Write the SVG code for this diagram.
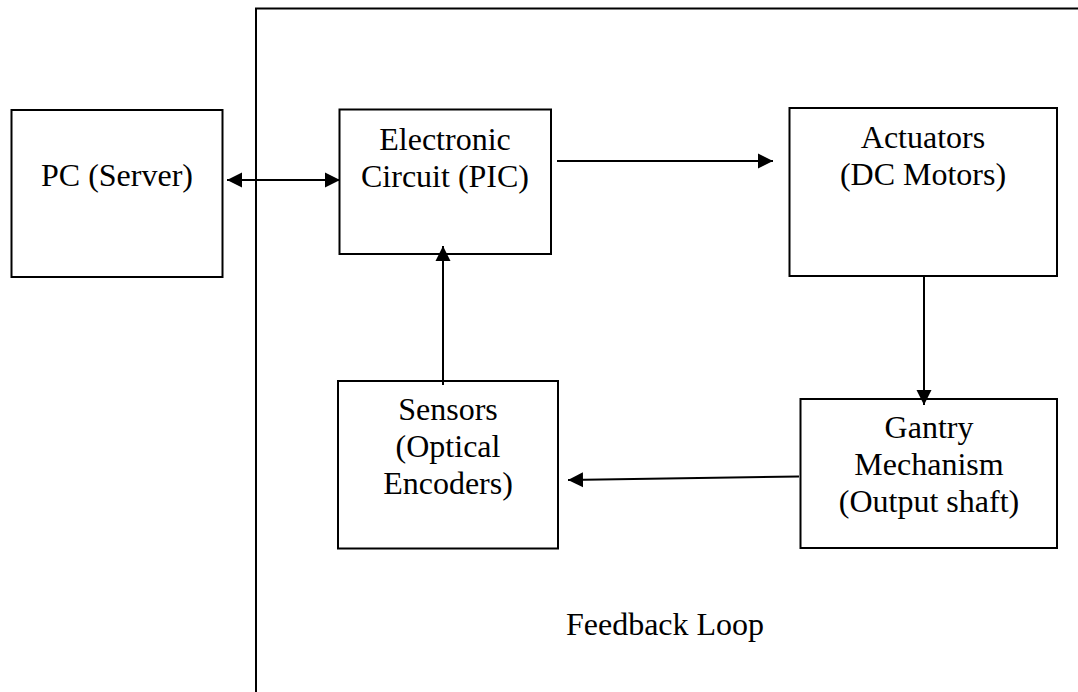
<svg xmlns="http://www.w3.org/2000/svg" width="1078" height="692" viewBox="0 0 1078 692">
  <style>
    .box { fill: #ffffff; stroke: #000000; stroke-width: 2; }
    .frame { fill: none; stroke: #000000; stroke-width: 2; }
    .link { fill: none; stroke: #000000; stroke-width: 2; }
    .label { font-family: "Liberation Serif", "Times New Roman", serif; font-size: 32px; fill: #000000; text-anchor: middle; }
  </style>
  <defs>
    <marker id="arrow" markerUnits="userSpaceOnUse" markerWidth="16" markerHeight="16" viewBox="0 0 16 16" refX="15" refY="8" orient="auto-start-reverse">
      <path d="M0,0.5 L15,8 L0,15.5 Z" fill="#000000"/>
    </marker>
  </defs>

  <rect width="1078" height="692" fill="#ffffff"/>

  <!-- feedback loop boundary -->
  <g id="feedback-loop">
    <path class="frame" d="M256,692 V8.5 H1078"/>
    <text class="label" x="665" y="635">Feedback Loop</text>
  </g>

  <g id="pc-server">
    <rect class="box" x="11.5" y="110" width="211" height="167"/>
    <text class="label" x="117" y="186">PC (Server)</text>
  </g>

  <g id="electronic-circuit">
    <rect class="box" x="339.5" y="109.5" width="211.5" height="144.5"/>
    <text class="label" x="445" y="150">Electronic</text>
    <text class="label" x="445" y="187">Circuit (PIC)</text>
  </g>

  <g id="actuators">
    <rect class="box" x="789.5" y="108" width="267.5" height="168"/>
    <text class="label" x="923" y="148">Actuators</text>
    <text class="label" x="923" y="185">(DC Motors)</text>
  </g>

  <g id="gantry">
    <rect class="box" x="800.5" y="399" width="256.5" height="149"/>
    <text class="label" x="929" y="438">Gantry</text>
    <text class="label" x="929" y="475">Mechanism</text>
    <text class="label" x="929" y="512">(Output shaft)</text>
  </g>

  <g id="sensors">
    <rect class="box" x="338" y="381" width="220" height="167.5"/>
    <text class="label" x="448" y="420">Sensors</text>
    <text class="label" x="448" y="457">(Optical</text>
    <text class="label" x="448" y="494">Encoders)</text>
  </g>

  <g id="connectors">
    <line class="link" x1="227" y1="180" x2="340" y2="180" marker-start="url(#arrow)" marker-end="url(#arrow)"/>
    <line class="link" x1="557" y1="161" x2="773" y2="161" marker-end="url(#arrow)"/>
    <line class="link" x1="924" y1="276" x2="924" y2="405" marker-end="url(#arrow)"/>
    <line class="link" x1="799" y1="476.5" x2="568" y2="480" marker-end="url(#arrow)"/>
    <line class="link" x1="443" y1="385" x2="443" y2="246" marker-end="url(#arrow)"/>
  </g>
</svg>
